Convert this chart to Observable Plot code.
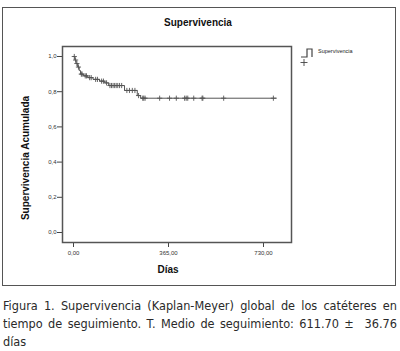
<!DOCTYPE html>
<html>
<head>
<meta charset="utf-8">
<script src="https://cdn.jsdelivr.net/npm/d3@7"></script>
<script src="https://cdn.jsdelivr.net/npm/@observablehq/plot@0.6"></script>
<style>
  html, body { margin: 0; padding: 0; background: #fff; }
  #wrap { position: relative; width: 400px; height: 351px; overflow: hidden; font-family: "Liberation Sans", Arial, sans-serif; }
  #box { position: absolute; left: 2px; top: 7px; width: 392px; height: 277px; border: 1.5px solid #555; }
  #chart { position: absolute; left: 0; top: 0; }
  .t { position: absolute; font-weight: bold; color: #111; white-space: nowrap; }
  #title { left: 0; width: 396px; top: 17px; text-align: center; font-size: 10px; }
  #xlab { left: 118px; width: 100px; top: 264px; text-align: center; font-size: 10px; }
  #ylab { left: 25px; top: 158px; font-size: 10px; transform: translate(-50%, -50%) rotate(-90deg); }
  #leg { position: absolute; left: 318px; top: 48px; font-size: 5.5px; color: #222; }
  #caption { position: absolute; left: 3px; top: 297px; width: 394px; font-family: "DejaVu Sans Condensed", "Liberation Sans Narrow", sans-serif; font-size: 12.6px; line-height: 18px; color: #2a2a2a; text-align: justify; letter-spacing: 0; }
</style>
</head>
<body>
<div id="wrap">
  <div id="box"></div>
  <div id="chart"></div>
  <div id="title" class="t">Supervivencia</div>
  <div id="xlab" class="t">Días</div>
  <div id="ylab" class="t">Supervivencia Acumulada</div>
  <div id="leg">Supervivencia</div>
  <div id="caption">Figura 1. Supervivencia (Kaplan-Meyer) global de los catéteres en tiempo de seguimiento. T. Medio de seguimiento: 611.70 ± &nbsp;36.76 días</div>
</div>
<script>
// Kaplan-Meier step points (days, cumulative survival)
const stepDays = [0, 5, 10, 16, 22, 27, 38, 55, 75, 100, 120, 135, 196, 245, 258, 780];
const stepSurv = [1.0, 0.98, 0.96, 0.94, 0.92, 0.90, 0.89, 0.88, 0.87, 0.86, 0.85, 0.835, 0.807, 0.778, 0.763, 0.763];
// censored observations (days)
const censorDays = [3, 8, 13, 19, 30, 33, 45, 50, 62, 68, 85, 92, 108, 115, 127, 140, 146, 152, 158, 164, 170, 177, 185, 205, 215, 226, 236, 250,
  266, 270, 275, 331, 369, 395, 427, 433, 439, 462, 494, 497, 577, 768];
const yTicks = [0, 0.2, 0.4, 0.6, 0.8, 1.0];
const xTicks = [0, 365, 730];

const steps = stepDays.map((d, i) => ({day: d, s: stepSurv[i]}));
const survAt = d => { let s = 1; for (let i = 0; i < stepDays.length; i++) if (stepDays[i] <= d) s = stepSurv[i]; return s; };
const censors = censorDays.map(d => ({day: d, s: survAt(d)}));

const fmtY = d => d.toFixed(1).replace(".", ",");
const fmtX = d => d.toFixed(2).replace(".", ",");

const plot = Plot.plot({
  width: 400, height: 290,
  marginLeft: 62, marginRight: 109, marginTop: 46, marginBottom: 48,
  style: {background: "transparent", color: "#333", fontFamily: "Liberation Sans, Arial, sans-serif"},
  x: {domain: [-42.3, 837.6]},
  y: {domain: [-0.0568, 1.0568]},
  marks: [
    Plot.axisY({ticks: yTicks, tickFormat: fmtY, tickSize: 5, tickPadding: 1, fontSize: 6, stroke: "#444", label: null}),
    Plot.axisX({ticks: xTicks, tickFormat: fmtX, tickSize: 5, tickPadding: 3, fontSize: 6, stroke: "#444", label: null}),
    Plot.frame({stroke: "#555", strokeWidth: 1.5}),
    Plot.line(steps, {x: "day", y: "s", curve: "step-after", stroke: "#555", strokeWidth: 1}),
    Plot.dot(censors, {x: "day", y: "s", symbol: "plus", r: 1.8, stroke: "#555", strokeWidth: 0.9})
  ]
});
document.getElementById("chart").appendChild(plot);

// legend icon: step line with a plus below
const ns = "http://www.w3.org/2000/svg";
const lg = document.createElementNS(ns, "svg");
lg.setAttribute("width", 20); lg.setAttribute("height", 22);
lg.style.position = "absolute"; lg.style.left = "298px"; lg.style.top = "46px";
const p = document.createElementNS(ns, "path");
p.setAttribute("d", "M3,11 H9 V3 H14 V11");
p.setAttribute("fill", "none"); p.setAttribute("stroke", "#444"); p.setAttribute("stroke-width", "1.2");
lg.appendChild(p);
const c = document.createElementNS(ns, "path");
c.setAttribute("d", "M6,13 V20 M2.5,16.5 H9.5");
c.setAttribute("fill", "none"); c.setAttribute("stroke", "#444"); c.setAttribute("stroke-width", "0.9");
lg.appendChild(c);
document.getElementById("wrap").appendChild(lg);
</script>
</body>
</html>
